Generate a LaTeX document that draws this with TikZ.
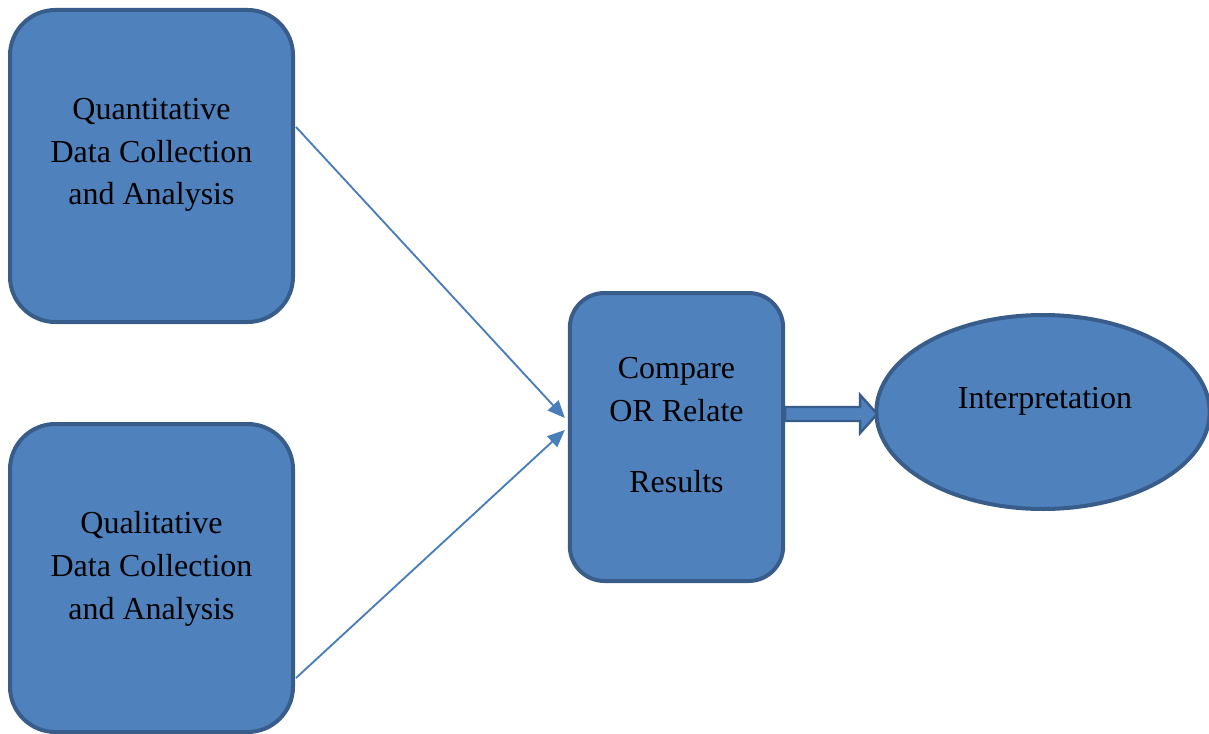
\documentclass[tikz,border=0pt]{standalone}
\usepackage{fontspec}
\setmainfont{Liberation Serif}
\usetikzlibrary{calc,arrows.meta,shapes.geometric}
\definecolor{boxfill}{HTML}{4F81BD}
\definecolor{boxline}{HTML}{385D8A}
\definecolor{arrline}{HTML}{4A7EBB}
\tikzset{
  bigbox/.style={draw=boxline, fill=boxfill, line width=3pt, rounded corners=34pt, inner sep=0pt},
  txt/.style={align=center, font=\fontsize{24}{32}\selectfont, inner sep=0pt},
  conn/.style={draw=arrline, line width=1.4pt, -{Triangle[length=13pt,width=11pt]}},
  blockarrow/.style={draw=boxline, fill=boxfill, line width=1.8pt, line join=miter}
}
\begin{document}
\begin{tikzpicture}[x=0.75pt,y=-0.75pt]
\useasboundingbox (0,0) rectangle (1209,734);
\begin{scope}
\clip (0,0) rectangle (1209,734);
\node[bigbox, minimum width=212.25pt, minimum height=234pt] (box1) at (151.5,166) {};
\node[bigbox, minimum width=212.25pt, minimum height=231pt] (box2) at (151.5,578) {};
\node[bigbox, minimum width=160pt, minimum height=216pt, rounded corners=26pt] (box3) at (676.5,437) {};
\node[draw=boxline, fill=boxfill, line width=3pt, ellipse, minimum width=250pt, minimum height=145.5pt, inner sep=0pt] (ell) at (1043,412) {};
\end{scope}
\node[txt] (t1) at ($(box1.center)+(0,-11)$) {Quantitative\\Data Collection\\and Analysis};
\node[txt] (t2) at ($(box2.center)+(0,-9)$) {Qualitative\\Data Collection\\and Analysis};
\node[txt] (t3) at ($(box3.center)+(0,-12)$) {Compare\\OR Relate\\[21pt]Results};
\node[txt] (t4) at ($(ell.center)+(2,-11)$) {Interpretation};
\draw[conn] ($(box1.east)+(1,-39)$) -- ($(box3.west)+(-3,-19)$);
\draw[conn] ($(box2.east)+(1,100)$) -- ($(box3.west)+(-3,-7)$);
\coordinate (ba) at ($(box3.east)+(0,-23)$);
\draw[blockarrow] (ba) ++(0,-7) -- ++(75,0) -- ++(0,-12) -- ++(17,19) -- ++(-17,19) -- ++(0,-12) -- ++(-75,0) -- cycle;
\end{tikzpicture}
\end{document}
